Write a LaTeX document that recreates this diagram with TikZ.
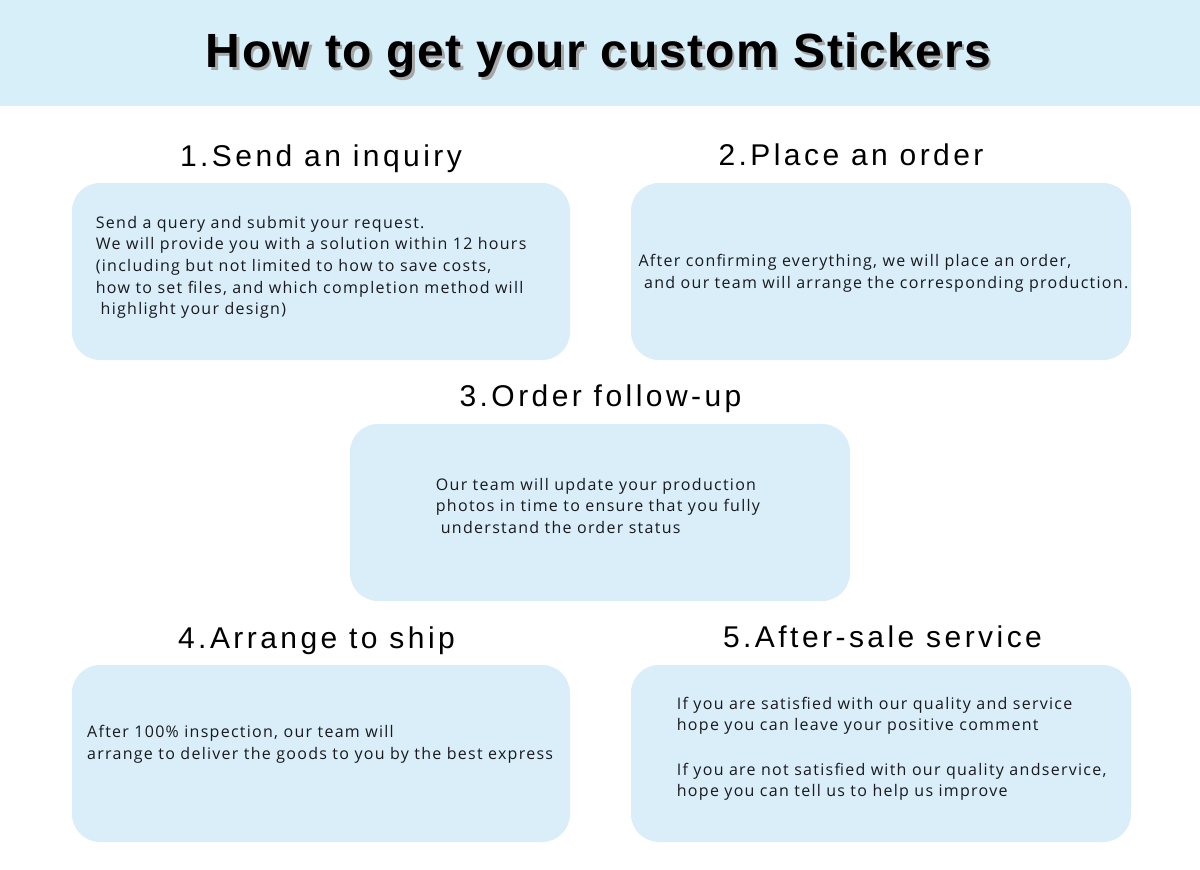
\documentclass[tikz,border=0pt]{standalone}
\usepackage{fontspec}
\setmainfont{Liberation Sans}
\newfontfamily\headfont[LetterSpace=11.5]{Liberation Sans}
\newfontfamily\titlefont[LetterSpace=3.2]{Liberation Sans}
\newfontfamily\bodyfont[LetterSpace=8]{Open Sans}
\definecolor{band}{RGB}{214,239,249}
\definecolor{boxfill}{RGB}{217,238,249}
\definecolor{bodytext}{RGB}{25,25,30}
\newcommand{\shadowed}[1]{\makebox[0pt][l]{\hspace{2.5pt}\raisebox{-3pt}{\textcolor{black!35}{#1}}}#1}
\begin{document}
\begin{tikzpicture}[x=1pt,y=-1pt,
  stepbox/.style={fill=boxfill, rounded corners=28pt, minimum height=177pt, inner sep=0pt},
  head/.style={font=\headfont\fontsize{30}{36}\selectfont, anchor=base, inner sep=0pt},
  body/.style={font=\bodyfont\fontsize{16}{22}\selectfont, text=bodytext, anchor=base west, inner sep=0pt},
  ttl/.style={font=\titlefont\bfseries\fontsize{48}{56}\selectfont, anchor=base, inner sep=0pt}]
\useasboundingbox (0,0) rectangle (1200,870);
\fill[white] (0,0) rectangle (1200,870);
% title band
\fill[band] (0,0) rectangle (1200,106);
\node[ttl, text=black] (title) at (598.5,67) {\shadowed{How to get your custom Stickers}};

% boxes
\node[stepbox, minimum width=498pt] (b1) at (321,271.5) {};
\node[stepbox, minimum width=500pt] (b2) at (881,271.5) {};
\node[stepbox, minimum width=500pt] (b3) at (600,512.5) {};
\node[stepbox, minimum width=498pt] (b4) at (321,753.5) {};
\node[stepbox, minimum width=500pt] (b5) at (881,753.5) {};

% headings
\node[head] (h1) at (321,166) {1.Send an inquiry};
\node[head] (h2) at (851,165) {2.Place an order};
\node[head] (h3) at (600.5,406) {3.Order follow-up};
\node[head] (h4) at (316.5,648) {4.Arrange to ship};
\node[head] (h5) at (882.5,647) {5.After-sale service};

% box 1 text
\node[body] (t11) at (95.7,228) {Send a query and submit your request.};
\node[body] (t12) at (95.7,249.7) {We will provide you with a solution within 12 hours};
\node[body] (t13) at (95.7,271.4) {(including but not limited to how to save costs,};
\node[body] (t14) at (95.7,293.1) {how to set files, and which completion method will};
\node[body] (t15) at (100.5,314.8) {highlight your design)};

% box 2 text
\node[body] (t21) at (638.3,266.7) {After confirming everything, we will place an order,};
\node[body] (t22) at (644,288.4) {and our team will arrange the corresponding production.};

% box 3 text
\node[body] (t31) at (435.7,490) {Our team will update your production};
\node[body] (t32) at (435.7,511.7) {photos in time to ensure that you fully};
\node[body] (t33) at (440.7,533.4) {understand the order status};

% box 4 text
\node[body] (t41) at (87,737.5) {After 100\% inspection, our team will};
\node[body] (t42) at (87,759.2) {arrange to deliver the goods to you by the best express};

% box 5 text
\node[body] (t51) at (676.7,709) {If you are satisfied with our quality and service};
\node[body] (t52) at (676.7,730.7) {hope you can leave your positive comment};
\node[body] (t53) at (676.7,775) {If you are not satisfied with our quality andservice,};
\node[body] (t54) at (676.7,796.7) {hope you can tell us to help us improve};
\end{tikzpicture}
\end{document}
